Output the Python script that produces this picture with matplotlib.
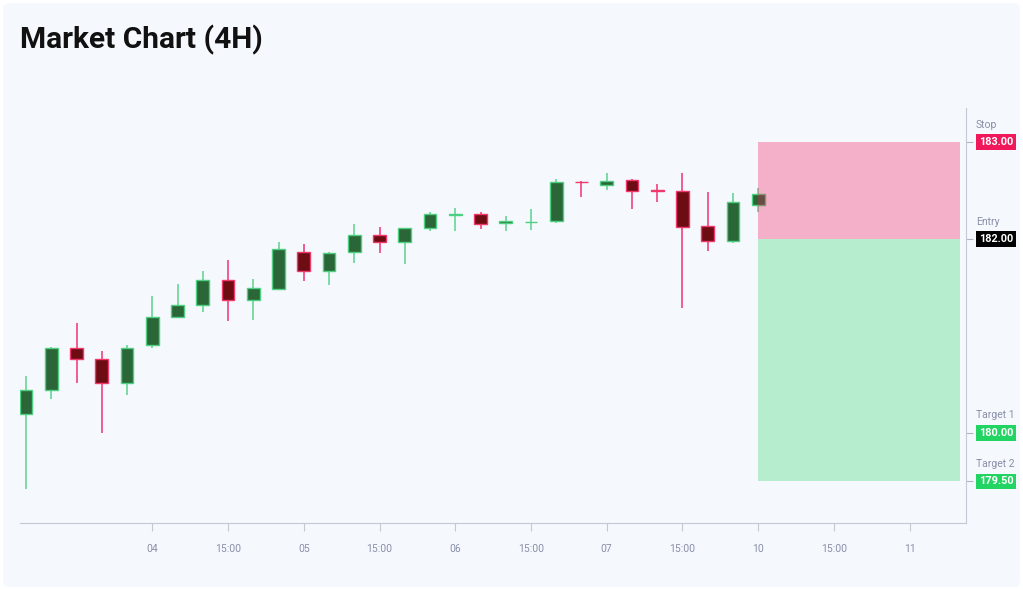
import matplotlib
matplotlib.use("Agg")
import matplotlib.pyplot as plt
from matplotlib.patches import FancyBboxPatch, Rectangle
import numpy as np

# 4H candles
opens = [180.19, 180.44, 180.87, 180.76, 180.51, 180.91, 181.19, 181.32, 181.58, 181.37,
         181.48, 181.86, 181.67, 181.86, 182.04, 181.97, 182.11, 182.25, 182.26, 182.16,
         182.17, 182.18, 182.59, 182.56, 182.61, 182.50, 182.49, 182.13, 181.98, 182.35]
closes = [180.44, 180.87, 180.76, 180.51, 180.87, 181.19, 181.32, 181.58, 181.37, 181.49,
          181.90, 181.67, 181.85, 182.04, 181.97, 182.11, 182.26, 182.26, 182.15, 182.18,
          182.175, 182.59, 182.585, 182.60, 182.49, 182.49, 182.12, 181.98, 182.38, 182.46]
highs = [180.59, 180.88, 181.13, 180.84, 180.91, 181.41, 181.54, 181.67, 181.78, 181.59,
         181.97, 181.95, 181.87, 182.15, 182.12, 182.11, 182.28, 182.32, 182.28, 182.24,
         182.31, 182.62, 182.60, 182.68, 182.62, 182.57, 182.68, 182.48, 182.47, 182.52]
lows = [179.42, 180.35, 180.51, 180.00, 180.39, 180.87, 181.18, 181.25, 181.15, 181.16,
        181.47, 181.57, 181.52, 181.75, 181.85, 181.74, 182.08, 182.08, 182.10, 182.08,
        182.09, 182.16, 182.43, 182.50, 182.31, 182.38, 181.29, 181.88, 181.96, 182.28]

tick_pos = [5, 8, 11, 14, 17, 20, 23, 26, 29, 32, 35]
tick_labels = ["04", "15:00", "05", "15:00", "06", "15:00", "07", "15:00", "10", "15:00", "11"]

level_names = ["Stop", "Entry", "Target 1", "Target 2"]
level_values = [183.00, 182.00, 180.00, 179.50]
level_colors = ["#f0185a", "#000000", "#22d462", "#22d462"]
zone_start, zone_end = 29, 37

bg = "#f5f8fd"
grey = "#8a8fa8"

fig = plt.figure(figsize=(10.23, 5.9), dpi=100)
fig.patch.set_facecolor("white")
card = FancyBboxPatch((3 / 1023, 3 / 590), 1017 / 1023, 584 / 590,
                      boxstyle="round,pad=0,rounding_size=0.008",
                      transform=fig.transFigure, facecolor=bg, edgecolor="none", zorder=-5)
fig.patches.append(card)

fig.text(20 / 1023, 1 - 40 / 590, "Market Chart (4H)", fontsize=21.5, fontweight="bold",
         family="Roboto", va="center", ha="left", color="#111111")

ax = fig.add_axes([20 / 1023, 1 - 523 / 590, 946 / 1023, 415 / 590])
ax.patch.set_alpha(0)

x = np.arange(len(opens))
o = np.array(opens); c = np.array(closes)
up = c >= o
wick_col = np.where(up, "#72d89c", "#f0508a")
ax.vlines(x, lows, highs, colors=wick_col, linewidth=1.3, zorder=2)
body_lo = np.minimum(o, c)
body_h = np.abs(c - o)
ax.bar(x[up], body_h[up], bottom=body_lo[up], width=0.5, color="#2a6638",
       edgecolor="#4fd080", linewidth=1, zorder=2.5)
ax.bar(x[~up], body_h[~up], bottom=body_lo[~up], width=0.5, color="#6e0c14",
       edgecolor="#f0386b", linewidth=1, zorder=2.5)

# risk / reward zones
ax.add_patch(Rectangle((zone_start, level_values[1]), zone_end - zone_start,
                       level_values[0] - level_values[1], facecolor="#f0185a",
                       alpha=0.32, edgecolor="none", zorder=3))
ax.add_patch(Rectangle((zone_start, level_values[3]), zone_end - zone_start,
                       level_values[1] - level_values[3], facecolor="#22d462",
                       alpha=0.3, edgecolor="none", zorder=3))

ax.set_xlim(-0.24, 37.23)
ax.set_ylim(179.07, 183.35)

for s in ["top", "left"]:
    ax.spines[s].set_visible(False)
ax.spines["bottom"].set_color("#c5c8d4")
ax.spines["right"].set_color("#c5c8d4")

ax.set_xticks(tick_pos)
ax.set_xticklabels(tick_labels, fontsize=7.5, color=grey, family="Roboto")
ax.tick_params(axis="x", length=6, color="#c5c8d4", pad=9)

ax.yaxis.tick_right()
ax.set_yticks(level_values)
ax.set_yticklabels([""] * len(level_values))
ax.tick_params(axis="y", length=5, color="#b0b4c4", direction="out")

for name, val, col in zip(level_names, level_values, level_colors):
    ax.annotate(f"{val:.2f}", xy=(1.0137, val), xycoords=("axes fraction", "data"),
                fontsize=7.8, fontweight="bold", color="white", family="Roboto",
                va="center", ha="left", annotation_clip=False,
                bbox=dict(boxstyle="square,pad=0.25", facecolor=col, edgecolor="none"))
    ax.annotate(name, xy=(1.0106, val), xycoords=("axes fraction", "data"),
                xytext=(0, 12.5), textcoords="offset points",
                fontsize=7.5, color=grey, family="Roboto",
                va="center", ha="left", annotation_clip=False)

fig.savefig("out.png", dpi=100, facecolor=fig.get_facecolor())
